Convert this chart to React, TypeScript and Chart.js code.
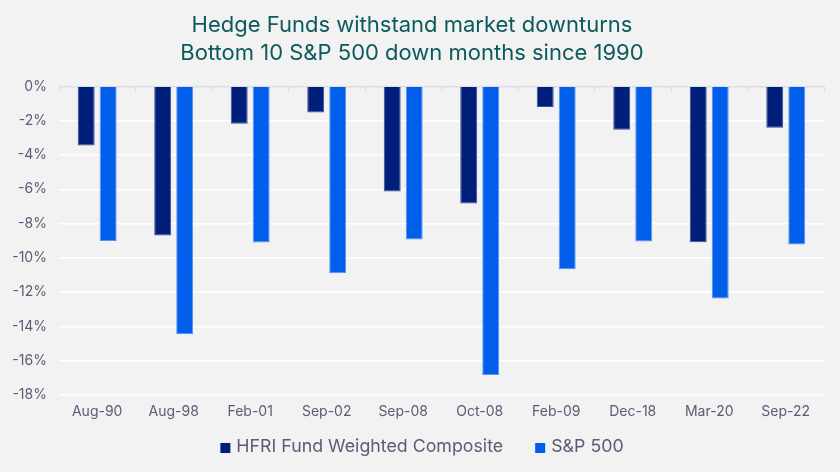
import React, { useEffect, useRef } from "react";
import { Chart, registerables } from "chart.js";

Chart.register(...registerables);

const categories = ["Aug-90", "Aug-98", "Feb-01", "Sep-02", "Sep-08", "Oct-08", "Feb-09", "Dec-18", "Mar-20", "Sep-22"];
const hfriValues = [-3.45, -8.7, -2.18, -1.53, -6.13, -6.83, -1.21, -2.53, -9.08, -2.41];
const spValues = [-9.01, -14.45, -9.1, -10.9, -8.93, -16.83, -10.66, -9.05, -12.37, -9.22];
const titleLines = ["Hedge Funds withstand market downturns", "Bottom 10 S&P 500 down months since 1990"];
const seriesNames = ["HFRI Fund Weighted Composite", "S&P 500"];

const BG = "#f2f2f2";
const TEXT = "#5b5b74";
const FONT = "Inter, 'Liberation Sans', Arial, sans-serif";

export default function App() {
  const ref = useRef<HTMLCanvasElement | null>(null);

  useEffect(() => {
    document.body.style.margin = "0";
    document.body.style.background = BG;
    const canvas = ref.current;
    if (!canvas) return;

    const bgPlugin = {
      id: "bg",
      beforeDraw(chart: any) {
        const c = chart.ctx;
        c.save();
        c.fillStyle = BG;
        c.fillRect(0, 0, chart.width, chart.height);
        c.restore();
      },
    };

    const tickMarks = {
      id: "tickMarks",
      afterDatasetsDraw(chart: any) {
        const c = chart.ctx;
        const xs = chart.scales.x;
        const ys = chart.scales.y;
        const y0 = ys.getPixelForValue(0);
        c.save();
        c.strokeStyle = "#dcdde8";
        c.lineWidth = 1;
        for (let i = 0; i <= categories.length; i++) {
          const px = Math.round(xs.getPixelForValue(i - 0.5)) + 0.5;
          c.beginPath();
          c.moveTo(px, y0);
          c.lineTo(px, y0 + 5);
          c.stroke();
        }
        c.restore();
      },
    };

    const customLegend = {
      id: "customLegend",
      afterDraw(chart: any) {
        const c = chart.ctx;
        const box = 10;
        const textGap = 6;
        const itemGap = 32;
        c.save();
        c.font = `17.8px ${FONT}`;
        c.textBaseline = "middle";
        c.textAlign = "left";
        const items = chart.data.datasets.map((d: any) => ({
          label: d.label,
          color: d.backgroundColor,
          w: c.measureText(d.label).width,
        }));
        const total = items.reduce((s: number, it: any, i: number) => s + box + textGap + it.w + (i > 0 ? itemGap : 0), 0);
        let x = chart.width / 2 - total / 2 + 2;
        const y = chart.height - 25;
        items.forEach((it: any, i: number) => {
          if (i > 0) x += itemGap;
          c.fillStyle = it.color;
          c.fillRect(x, y - box / 2 + 1, box, box);
          x += box + textGap;
          c.fillStyle = TEXT;
          c.fillText(it.label, x, y);
          x += it.w;
        });
        c.restore();
      },
    };

    const chart = new Chart(canvas, {
      type: "bar",
      data: {
        labels: categories,
        datasets: [
          {
            label: seriesNames[0],
            data: hfriValues,
            backgroundColor: "#001f7a",
            borderColor: "#3d4f96",
            borderWidth: 1,
            barPercentage: 0.77,
            categoryPercentage: 0.575,
          },
          {
            label: seriesNames[1],
            data: spValues,
            backgroundColor: "#005eeb",
            borderColor: "#5a93f2",
            borderWidth: 1,
            barPercentage: 0.77,
            categoryPercentage: 0.575,
          },
        ],
      },
      options: {
        responsive: false,
        animation: false,
        devicePixelRatio: 1,
        layout: { padding: { left: 0, right: 16, top: 4, bottom: 52 } },
        plugins: {
          title: {
            display: true,
            text: titleLines,
            color: "#0c5a5c",
            font: { family: FONT, size: 22, weight: "normal", lineHeight: 1.28 },
            padding: { top: 7, bottom: 19 },
          },
          legend: { display: false },
          tooltip: { enabled: false },
        },
        scales: {
          x: {
            grid: { display: false },
            border: { display: false },
            ticks: { color: TEXT, font: { family: FONT, size: 14 }, padding: 0 },
          },
          y: {
            min: -18,
            max: 0,
            ticks: {
              stepSize: 2,
              color: TEXT,
              font: { family: FONT, size: 14 },
              padding: 12,
              callback: (v: any) => `${v}%`,
            },
            grid: {
              color: (ctx: any) => (ctx.tick && ctx.tick.value === 0 ? "#dcdde8" : "#ffffff"),
              lineWidth: 1.5,
              drawTicks: false,
            },
            border: { display: false },
          },
        },
      },
      plugins: [bgPlugin, tickMarks, customLegend],
    });

    return () => chart.destroy();
  }, []);

  return (
    <div style={{ width: 840, height: 472, background: BG }}>
      <canvas ref={ref} width={840} height={472} />
    </div>
  );
}
